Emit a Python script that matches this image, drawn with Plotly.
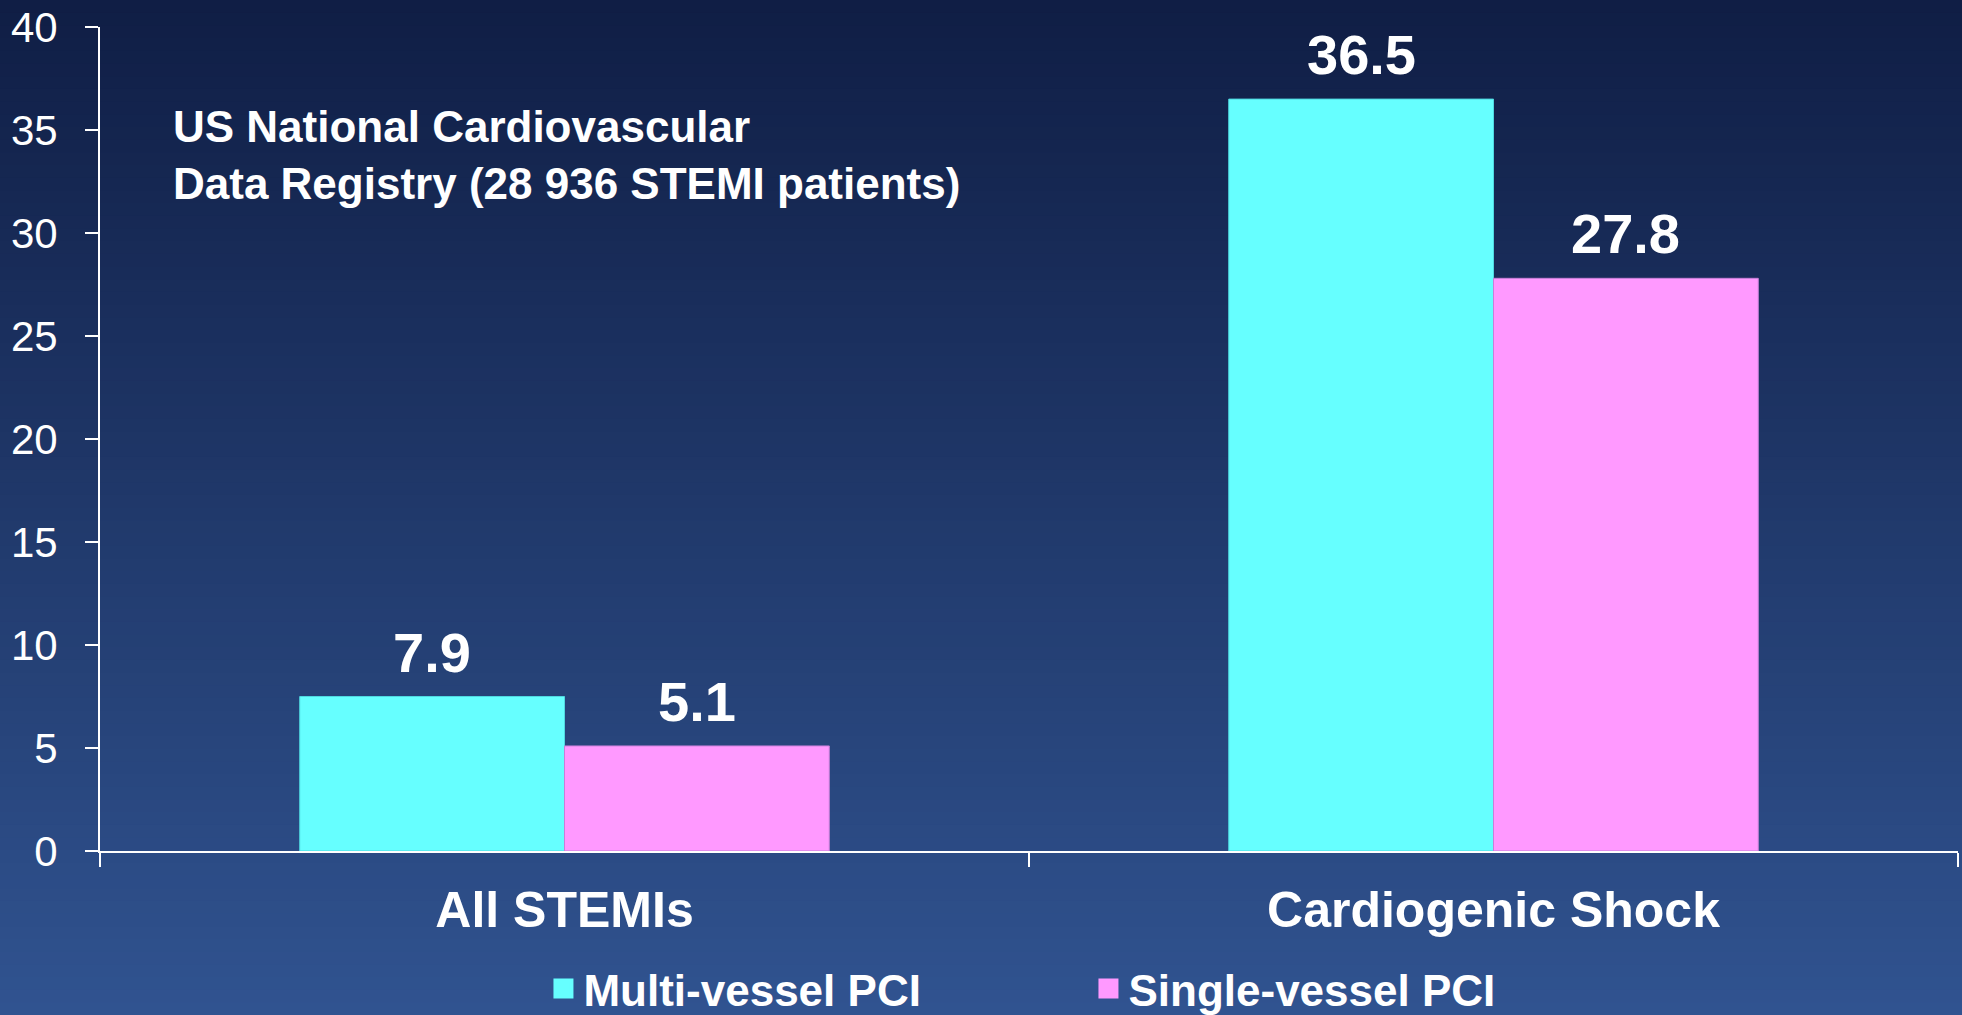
import numpy as np
import plotly.graph_objects as go

categories = ["All STEMIs", "Cardiogenic Shock"]
multi_vessel = [7.5, 36.5]
single_vessel = [5.1, 27.8]
multi_labels = ["7.9", "36.5"]
single_labels = ["5.1", "27.8"]
series_names = ["Multi-vessel PCI", "Single-vessel PCI"]
series_colors = ["#66FFFF", "#FF99FF"]
series_edges = ["#4fd8e0", "#c77fd9"]
y_ticks = [0, 5, 10, 15, 20, 25, 30, 35, 40]
note_text = "US National Cardiovascular<br>Data Registry (28 936 STEMI patients)"

W, H = 1962, 1015
ML, MR, MT, MB = 100, 4, 27, 164
PW, PH = W - ML - MR, H - MT - MB
BARGAP = 0.43

FONT = "Liberation Sans, Arial, sans-serif"

fig = go.Figure()
for vals, name, col, edge in [(multi_vessel, series_names[0], series_colors[0], series_edges[0]),
                              (single_vessel, series_names[1], series_colors[1], series_edges[1])]:
    fig.add_trace(go.Bar(
        x=categories, y=vals, name=name, showlegend=False,
        marker=dict(color=col, line=dict(color=edge, width=1)),
    ))

# legend entries with larger square symbols
for name, col in zip(series_names, series_colors):
    fig.add_trace(go.Scatter(
        x=[None], y=[None], mode="markers", name=name,
        marker=dict(symbol="square", size=16, color=col, line=dict(color=col, width=4)),
    ))

# value labels above bars
cat_px = PW / len(categories)
bar_px = cat_px * (1 - BARGAP) / 2
annotations = []
for vals, labels, sgn in [(multi_vessel, multi_labels, -1), (single_vessel, single_labels, 1)]:
    for c, v, t in zip(categories, vals, labels):
        annotations.append(dict(
            x=c, y=v, xref="x", yref="y", text=t, showarrow=False,
            xanchor="center", yanchor="bottom", xshift=sgn * bar_px / 2, yshift=11,
            font=dict(family=FONT, size=56, color="white", weight="bold"),
        ))
annotations.append(dict(
    text=note_text, xref="paper", yref="paper", x=0.038, y=0.912,
    xanchor="left", yanchor="top", align="left", showarrow=False,
    font=dict(family=FONT, size=44, color="white", weight="bold"),
))

# gradient background (style only)
top = np.array([16, 30, 69])
bot = np.array([49, 84, 145])
n = 80
shapes = []
for i in range(n):
    py0 = H * i / n
    py1 = H * (i + 1) / n + 1
    c = top + (bot - top) * ((i + 0.5) / n)
    shapes.append(dict(
        type="rect", xref="paper", yref="paper", layer="below",
        x0=-ML / PW, x1=1 + MR / PW,
        y0=(H - MB - py1) / PH, y1=(H - MB - py0) / PH,
        fillcolor="rgb(%d,%d,%d)" % tuple(c.astype(int)), line=dict(width=0),
    ))

fig.update_layout(
    width=W, height=H,
    margin=dict(l=ML, r=MR, t=MT, b=MB, autoexpand=False),
    paper_bgcolor="#30538f", plot_bgcolor="rgba(0,0,0,0)",
    barmode="group", bargap=BARGAP, bargroupgap=0,
    shapes=shapes, annotations=annotations,
    font=dict(family=FONT, color="white"),
    showlegend=True,
    legend=dict(
        orientation="h", x=0.532, xanchor="center", y=1 - 989 / H, yanchor="middle",
        yref="container",
        font=dict(family=FONT, size=44, color="white", weight="bold"),
        bgcolor="rgba(0,0,0,0)", entrywidth=500, entrywidthmode="pixels",
        itemsizing="trace",
    ),
)
fig.update_xaxes(
    type="category", showline=True, linecolor="white", linewidth=2,
    ticks="outside", tickson="boundaries", ticklen=14, tickwidth=2, tickcolor="white",
    tickfont=dict(family=FONT, size=50, color="white", weight="bold"),
    ticklabelstandoff=14, showgrid=False, zeroline=False,
)
fig.update_yaxes(
    range=[0, 40], tickvals=y_ticks, showline=True, linecolor="white", linewidth=2,
    ticks="outside", ticklen=13, tickwidth=2, tickcolor="white",
    tickfont=dict(family=FONT, size=42, color="white"),
    ticklabelstandoff=19, showgrid=False, zeroline=False,
)

fig.write_html("out.html", config={"displayModeBar": False},
               post_script="document.body.style.margin='0';document.body.style.overflow='hidden';")
